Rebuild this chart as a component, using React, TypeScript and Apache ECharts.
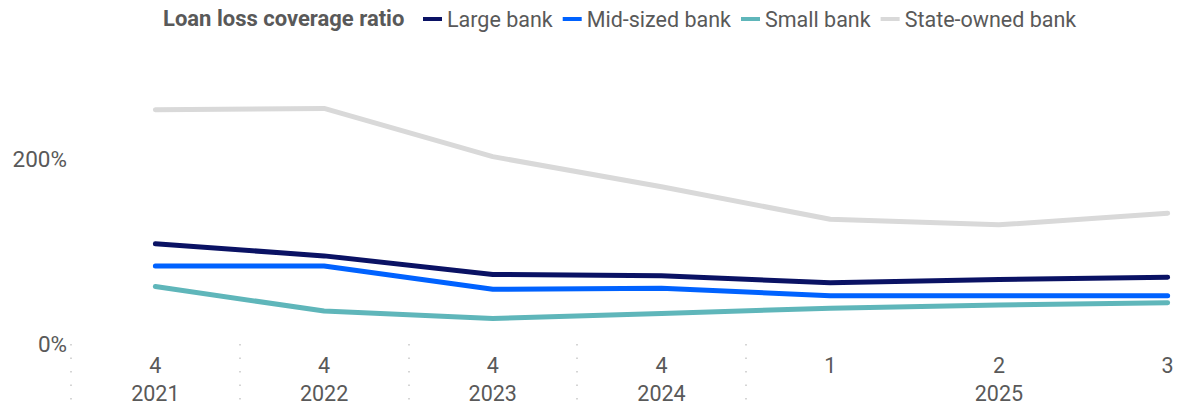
import React, { useEffect, useRef } from "react";
import * as echarts from "echarts";

const categories = ["2021Q4", "2022Q4", "2023Q4", "2024Q4", "2025Q1", "2025Q2", "2025Q3"];
const quarters = ["4", "4", "4", "4", "1", "2", "3"];
const years = ["2021", "2022", "2023", "2024", "", "2025", ""];

const largeBank = [108, 95, 75, 73.5, 66, 69.5, 72];
const midBank = [84, 84, 59, 60, 52, 52, 52];
const smallBank = [62, 35.5, 27.5, 33, 38.5, 42, 44.5];
const stateBank = [252.5, 254, 202, 169.5, 134.5, 128.5, 141];

const yTicks = [0, 200];

export default function App() {
  const ref = useRef<HTMLDivElement>(null);
  useEffect(() => {
    const chart = echarts.init(ref.current!, null, { renderer: "svg" });
    const font = "Roboto";
    const grey = "#595959";
    const mk = (name: string, data: number[], color: string, z: number) => ({
      name,
      type: "line",
      data,
      symbol: "none",
      z,
      lineStyle: { width: 5, color, cap: "round", join: "round" },
      itemStyle: { color },
    });
    chart.setOption({
      animation: false,
      textStyle: { fontFamily: font },
      title: {
        text: "Loan loss coverage ratio",
        left: 163,
        top: 7,
        padding: 0,
        textStyle: { fontFamily: font, fontSize: 22, fontWeight: "bold", color: grey },
      },
      legend: {
        left: 423,
        top: 8,
        padding: 0,
        icon: "rect",
        itemWidth: 19,
        itemHeight: 4,
        itemGap: 10,
        textStyle: { fontFamily: font, fontSize: 21.5, color: grey },
        data: ["Large bank", "Mid-sized bank", "Small bank", "State-owned bank"],
      },
      grid: { left: 71, top: 65.75, right: 0, height: 278.25 },
      xAxis: {
        type: "category",
        data: categories,
        boundaryGap: true,
        axisLine: { show: false },
        axisTick: {
          show: true,
          length: 66,
          interval: (index: number) => index <= 4,
          lineStyle: { color: "#c8c8c8", width: 1.5, type: [1.5, 12] },
        },
        axisLabel: {
          interval: 0,
          margin: 7.5,
          fontFamily: font,
          fontSize: 21.5,
          lineHeight: 28,
          color: grey,
          formatter: (_v: string, i: number) => quarters[i] + "\n" + years[i],
        },
      },
      yAxis: {
        type: "value",
        min: 0,
        max: 300,
        interval: 100,
        splitLine: { show: false },
        axisLine: { show: false },
        axisTick: { show: false },
        axisLabel: {
          margin: 4,
          fontFamily: font,
          fontSize: 22.5,
          color: grey,
          formatter: (v: number) => (yTicks.includes(v) ? v + "%" : ""),
        },
      },
      series: [
        mk("State-owned bank", stateBank, "#d9d9d9", 1),
        mk("Small bank", smallBank, "#5fb6ba", 2),
        mk("Mid-sized bank", midBank, "#0062ff", 3),
        mk("Large bank", largeBank, "#0a1264", 4),
      ],
    });
    return () => chart.dispose();
  }, []);
  return (
    <div style={{ width: 1183, height: 410, margin: -8, overflow: "hidden", position: "relative" }}>
      <div ref={ref} style={{ width: 1252, height: 410 }} />
    </div>
  );
}
